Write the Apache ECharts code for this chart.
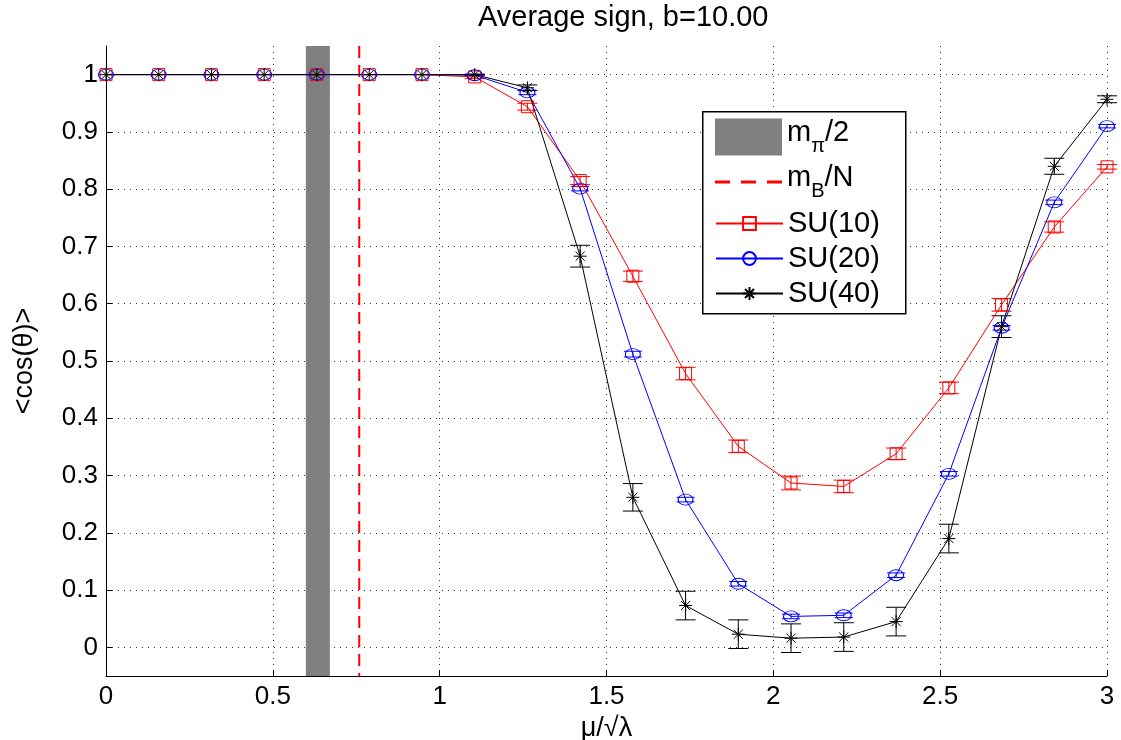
<!DOCTYPE html>
<html><head><meta charset="utf-8">
<script src="https://cdn.jsdelivr.net/npm/echarts@6/dist/echarts.min.js"></script>
<style>html,body{margin:0;padding:0;background:#fff}#c{width:1121px;height:740px}</style>
</head><body><div id="c"></div>
<script>
// ---- data ----
const xs = [0, 0.158, 0.316, 0.474, 0.632, 0.789, 0.947, 1.105, 1.263, 1.421, 1.579, 1.737, 1.895, 2.053, 2.211, 2.368, 2.526, 2.684, 2.842, 3.0];
const su10 = [1, 1, 1, 1, 1, 1, 1, 0.996, 0.944, 0.815, 0.648, 0.478, 0.351, 0.287, 0.281, 0.338, 0.453, 0.598, 0.734, 0.839];
const su10err = [0, 0, 0, 0, 0, 0, 0, 0.003, 0.006, 0.007, 0.009, 0.011, 0.011, 0.012, 0.011, 0.010, 0.010, 0.011, 0.009, 0.004];
const su20 = [1, 1, 1, 1, 1, 1, 1, 0.999, 0.969, 0.801, 0.512, 0.258, 0.111, 0.054, 0.056, 0.126, 0.303, 0.558, 0.777, 0.910];
const su20err = [0, 0, 0, 0, 0, 0, 0, 0.001, 0.004, 0.004, 0.005, 0.004, 0.004, 0.004, 0.004, 0.004, 0.004, 0.004, 0.004, 0.003];
const su40 = [1, 1, 1, 1, 1, 1, 1, 1, 0.977, 0.683, 0.262, 0.073, 0.023, 0.016, 0.018, 0.045, 0.190, 0.560, 0.840, 0.957];
const su40err = [0, 0, 0, 0, 0, 0, 0, 0.001, 0.005, 0.019, 0.024, 0.025, 0.025, 0.025, 0.025, 0.025, 0.025, 0.019, 0.014, 0.006];
const mPiBand = [0.599, 0.671];
const mBLine = 0.759;
const yTicks = [0, 0.1, 0.2, 0.3, 0.4, 0.5, 0.6, 0.7, 0.8, 0.9, 1];
const yMin = -0.05, yMax = 1.05;
const xMin = 0, xMax = 3, xStep = 0.5;

// ---- chart ----
const FONT = 'Liberation Sans';
const chart = echarts.init(document.getElementById('c'), null, {renderer: 'canvas'});

function errSeries(name, vals, errs, color, cap) {
  return {
    type: 'custom', name: name, z: 3, silent: true,
    data: xs.map((x, i) => [x, vals[i], errs[i]]),
    encode: {x: 0, y: 1},
    renderItem: function (params, api) {
      const x = api.value(0), y = api.value(1), e = api.value(2);
      if (!(e > 0)) return null;
      const t = api.coord([x, y + e]), b = api.coord([x, y - e]);
      const st = {stroke: color, lineWidth: 1};
      return {type: 'group', children: [
        {type: 'line', shape: {x1: t[0], y1: t[1], x2: b[0], y2: b[1]}, style: st},
        {type: 'line', shape: {x1: t[0] - cap, y1: t[1], x2: t[0] + cap, y2: t[1]}, style: st},
        {type: 'line', shape: {x1: b[0] - cap, y1: b[1], x2: b[0] + cap, y2: b[1]}, style: st}
      ]};
    }
  };
}
function lineSeries(name, vals, color, symbol, size) {
  return {
    type: 'line', name: name, z: 4,
    data: xs.map((x, i) => [x, vals[i]]),
    symbol: symbol, symbolSize: size, showAllSymbol: true,
    lineStyle: {color: color, width: 1},
    itemStyle: {color: 'rgba(0,0,0,0)', borderColor: color, borderWidth: 1},
    emphasis: {disabled: true}
  };
}
const asterisk = 'path://M0,-1L0,1M-1,0L1,0M-0.7,-0.7L0.7,0.7M-0.7,0.7L0.7,-0.7';

const rich = {
  m: {fontFamily: FONT, fontSize: 29, color: '#000', verticalAlign: 'top', lineHeight: 38},
  s: {fontFamily: FONT, fontSize: 20, color: '#000', verticalAlign: 'bottom', lineHeight: 38}
};
const legendFmt = function (name) {
  if (name === 'mpi') return '{m|m}{s|π}{m|/2}';
  if (name === 'mB') return '{m|m}{s|B}{m|/N}';
  return name;
};
const legendText = {fontFamily: FONT, fontSize: 29, color: '#000', lineHeight: 29, rich: rich};

const option = {
  animation: false,
  backgroundColor: '#fff',
  title: {
    text: 'Average sign, b=10.00', left: 478, top: 3, padding: 0,
    textStyle: {fontFamily: FONT, fontSize: 29, fontWeight: 'normal', color: '#000'}
  },
  grid: {left: 106, right: 14, top: 46, bottom: 64, containLabel: false, outerBoundsMode: 'none'},
  xAxis: {
    type: 'value', min: xMin, max: xMax, interval: xStep,
    name: 'μ/√λ', nameLocation: 'middle', nameGap: 31,
    nameTextStyle: {fontFamily: FONT, fontSize: 27, color: '#000'},
    axisLine: {show: true, onZero: false, lineStyle: {color: '#000', width: 1}},
    axisTick: {show: true, inside: true, length: 6, lineStyle: {color: '#000'}},
    axisLabel: {fontFamily: FONT, fontSize: 26, color: '#000', margin: 8, formatter: v => String(v)},
    splitLine: {show: true, lineStyle: {color: '#333', width: 1, type: [1, 5]}}
  },
  yAxis: {
    type: 'value', min: yMin, max: yMax,
    name: '<cos(θ)>', nameLocation: 'middle', nameGap: 68, nameRotate: 90,
    nameTextStyle: {fontFamily: FONT, fontSize: 27, color: '#000'},
    axisLine: {show: true, onZero: false, lineStyle: {color: '#000', width: 1}},
    axisTick: {show: true, inside: true, length: 6, lineStyle: {color: '#000'}, customValues: yTicks},
    axisLabel: {fontFamily: FONT, fontSize: 26, color: '#000', margin: 8, customValues: yTicks,
      formatter: v => (v === 0 ? '0' : v === 1 ? '1' : v.toFixed(1))},
    splitLine: {show: true, lineStyle: {color: '#333', width: 1, type: [1, 5]}}
  },
  legend: [
    {data: [{name: 'mpi', icon: 'rect'}], left: 715, top: 118, padding: 0, itemWidth: 67, itemHeight: 37,
      selectedMode: false, formatter: legendFmt, textStyle: legendText},
    {data: [{name: 'mB', icon: 'path://M0,0h15v3h-15zM26,0h15v3h-15zM52,0h15v3h-15z'}], left: 715, top: 163, padding: 0,
      itemWidth: 67, itemHeight: 3, symbolKeepAspect: false,
      selectedMode: false, formatter: legendFmt, textStyle: legendText},
    {data: ['SU(10)', 'SU(20)', 'SU(40)'], orient: 'vertical', left: 715, top: 209, padding: 0,
      itemWidth: 67, itemHeight: 16, itemGap: 6, selectedMode: false, textStyle: legendText}
  ],
  graphic: [
    {type: 'rect', left: 702, top: 111, z: 3, shape: {width: 203, height: 202},
      style: {fill: '#fff', stroke: '#000', lineWidth: 1.5}}
  ],
  series: [
    {
      type: 'custom', name: 'mpi', z: 1, silent: true,
      itemStyle: {color: '#808080'},
      data: [[mPiBand[0], mPiBand[1], yMin, yMax]],
      encode: {x: [0, 1], y: [2, 3]},
      renderItem: function (params, api) {
        const a = api.coord([api.value(0), api.value(3)]);
        const b = api.coord([api.value(1), api.value(2)]);
        return {type: 'rect', shape: {x: a[0], y: a[1], width: b[0] - a[0], height: b[1] - a[1]}, style: {fill: '#808080'}};
      }
    },
    {
      type: 'custom', name: 'mB', z: 1, silent: true,
      itemStyle: {color: '#ff0000'},
      data: [[mBLine, yMin, yMax]],
      encode: {x: 0, y: [1, 2]},
      renderItem: function (params, api) {
        const a = api.coord([api.value(0), api.value(2)]);
        const b = api.coord([api.value(0), api.value(1)]);
        return {type: 'line', shape: {x1: a[0], y1: a[1], x2: b[0], y2: b[1]},
          style: {stroke: '#ff0000', lineWidth: 2, lineDash: [12, 7]}};
      }
    },
    errSeries('e10', su10, su10err, '#ff0000', 10),
    errSeries('e20', su20, su20err, '#0000ff', 9),
    errSeries('e40', su40, su40err, '#000000', 10),
    lineSeries('SU(10)', su10, '#ff0000', 'rect', [12, 12]),
    lineSeries('SU(20)', su20, '#0000ff', 'circle', [15, 11]),
    lineSeries('SU(40)', su40, '#000000', asterisk, [13, 13])
  ]
};
chart.setOption(option);
</script>
</body></html>
